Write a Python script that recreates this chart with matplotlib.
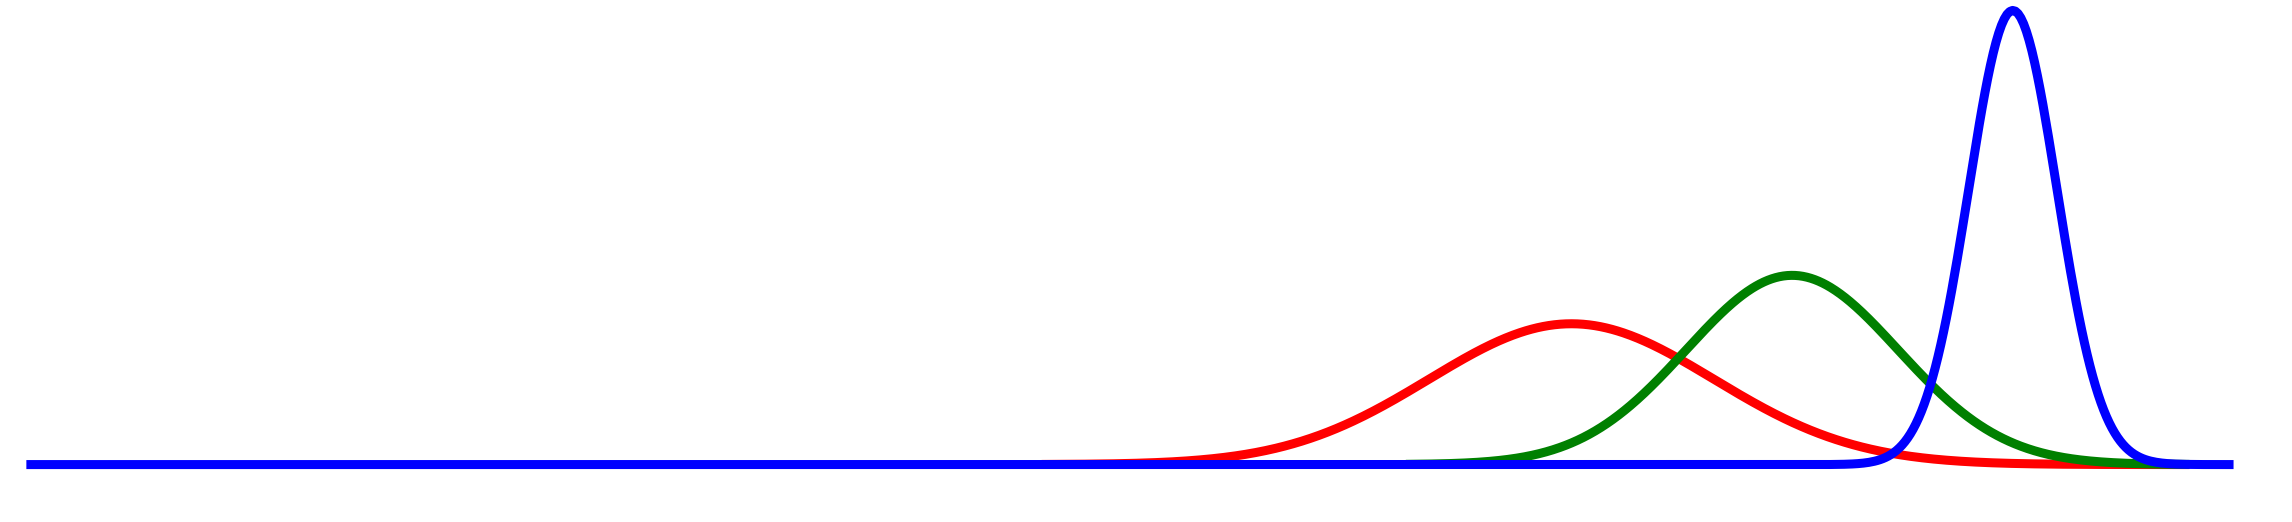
import numpy as np
import matplotlib.pyplot as plt

# normal curves
names = ["red", "green", "blue"]
means = [4.0, 6.0, 8.0]
sds = [1.29, 0.96, 0.4]
x_starts = [-0.8, 2.5, -10.0]
x_ends = [9.6, 9.6, 10.0]

fig = plt.figure(figsize=(22.92, 5.22), dpi=100)
ax = fig.add_axes([0.0115, 0.11, 0.963, 0.87])

for c, m, s, a, b in zip(names, means, sds, x_starts, x_ends):
    x = np.linspace(a, b, 800)
    y = np.exp(-(x - m) ** 2 / (2 * s ** 2)) / (s * np.sqrt(2 * np.pi))
    ax.plot(x, y, color=c, lw=6.5, solid_capstyle="butt", clip_on=False)

ax.set_xlim(-10, 10)
ax.set_ylim(0, 1 / (0.4 * np.sqrt(2 * np.pi)))
ax.axis("off")
fig.savefig("out.png", dpi=100)
